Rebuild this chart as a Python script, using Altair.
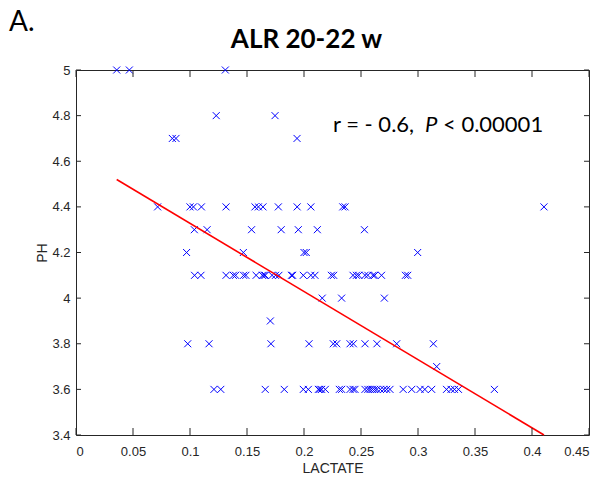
import altair as alt
import pandas as pd

# ---- data (LACTATE values grouped by PH level) ----
ph_levels = [5.0, 4.8, 4.7, 4.4, 4.3, 4.2, 4.1, 4.0, 3.9, 3.8, 3.7, 3.6]
lac_50 = [0.0357, 0.0468, 0.131]
lac_48 = [0.123, 0.1746]
lac_47 = [0.0845, 0.0877, 0.1939]
lac_44 = [0.0716, 0.100, 0.103, 0.110, 0.1316, 0.157, 0.160, 0.164, 0.1775,
          0.194, 0.206, 0.234, 0.236, 0.4105]
lac_43 = [0.1038, 0.115, 0.154, 0.180, 0.195, 0.2117, 0.253]
lac_42 = [0.097, 0.1468, 0.200, 0.202, 0.2997]
lac_41 = [0.104, 0.1096, 0.1316, 0.138, 0.140, 0.147, 0.149, 0.158, 0.1635,
          0.165, 0.166, 0.172, 0.175, 0.178, 0.189, 0.190, 0.1994, 0.206,
          0.2096, 0.224, 0.226, 0.243, 0.246, 0.248, 0.2535, 0.256, 0.2605,
          0.262, 0.268, 0.289, 0.291]
lac_40 = [0.216, 0.233, 0.2705]
lac_39 = [0.1705]
lac_38 = [0.098, 0.1167, 0.171, 0.2044, 0.2257, 0.2287, 0.2404, 0.2433,
          0.2535, 0.264, 0.2813, 0.3135]
lac_37 = [0.3164]
lac_36 = [0.121, 0.127, 0.166, 0.1827, 0.1994, 0.2038, 0.2126, 0.214, 0.2155,
          0.2187, 0.231, 0.233, 0.2404, 0.243, 0.2447, 0.2535, 0.256, 0.258,
          0.260, 0.262, 0.264, 0.267, 0.270, 0.2725, 0.2754, 0.287, 0.2945,
          0.3018, 0.306, 0.312, 0.325, 0.329, 0.332, 0.3355, 0.367]
lac_groups = [lac_50, lac_48, lac_47, lac_44, lac_43, lac_42, lac_41, lac_40,
              lac_39, lac_38, lac_37, lac_36]

# regression line end points
fit_lac = [0.0357, 0.4105]
fit_ph = [4.52, 3.40]

x_ticks = [0, 0.05, 0.1, 0.15, 0.2, 0.25, 0.3, 0.35, 0.4, 0.45]
y_ticks = [3.4, 3.6, 3.8, 4.0, 4.2, 4.4, 4.6, 4.8, 5.0]

title_text = "ALR 20-22 w"
panel_text = "A."
stat_a = "r = - 0.6,"
stat_p = "P"
stat_b = "< 0.00001"

# ---- tables ----
pts = pd.DataFrame([(x, y) for y, xs in zip(ph_levels, lac_groups) for x in xs],
                   columns=["LACTATE", "PH"])
fit = pd.DataFrame({"LACTATE": fit_lac, "PH": fit_ph})
xt = pd.DataFrame({"LACTATE": x_ticks})
yt = pd.DataFrame({"PH": y_ticks})

W, H = 513, 365
AX = "#262626"
FONT = "Liberation Sans"

xs = alt.Scale(domain=[0, 0.45], nice=False, zero=False)
ys = alt.Scale(domain=[3.4, 5.0], nice=False, zero=False)

x_axis = alt.Axis(values=x_ticks, format="~g", ticks=False, domain=False, grid=False,
                  labelFont=FONT, labelFontSize=13, labelColor=AX, labelPadding=10,
                  title="LACTATE", titleFont=FONT, titleFontSize=14, titleFontWeight="normal",
                  titleColor=AX, titleX=W / 2, titleY=33, titleBaseline="middle",
                  titleAlign="center")
y_axis = alt.Axis(values=y_ticks, format="~g", ticks=False, domain=False, grid=False,
                  labelFont=FONT, labelFontSize=13, labelColor=AX, labelPadding=6,
                  title="PH", titleFont=FONT, titleFontSize=14, titleFontWeight="normal",
                  titleColor=AX, titleX=-34, titleY=H / 2, titleAngle=-90,
                  titleBaseline="middle", titleAlign="center")

X = alt.X("LACTATE:Q", scale=xs, axis=x_axis)
Y = alt.Y("PH:Q", scale=ys, axis=y_axis)

points = alt.Chart(pts).mark_point(
    shape="M-1,-1L1,1M-1,1L1,-1", filled=False, color="#0000ff",
    strokeWidth=1, size=49, opacity=1
).encode(x=X, y=Y)

line = alt.Chart(fit).mark_line(color="#ff0000", strokeWidth=1.6).encode(x=X, y=Y)

tick_b = alt.Chart(xt).mark_rule(color=AX, strokeWidth=1).encode(
    x=X, y=alt.value(H), y2=alt.value(H - 7))
tick_t = alt.Chart(xt).mark_rule(color=AX, strokeWidth=1).encode(
    x=X, y=alt.value(0), y2=alt.value(7))
tick_l = alt.Chart(yt).mark_rule(color=AX, strokeWidth=1).encode(
    y=Y, x=alt.value(0), x2=alt.value(5))
tick_r = alt.Chart(yt).mark_rule(color=AX, strokeWidth=1).encode(
    y=Y, x=alt.value(W), x2=alt.value(W - 5))


def label(text, x, y, size, weight="normal", style="normal", font="Lato",
          align="left"):
    return alt.Chart(pd.DataFrame({"t": [text]})).mark_text(
        font=font, fontSize=size, fontWeight=weight, fontStyle=style,
        color="#000000", align=align, baseline="alphabetic"
    ).encode(x=alt.value(x), y=alt.value(y), text="t:N")


title = label(title_text, 230.5, -22, 26, weight="bold", align="center")
panel = label(panel_text, -67, -39, 28)
s1 = label(stat_a, 257, 62, 22)
s2 = label(stat_p, 349, 62, 22, style="italic")
s3 = label(stat_b, 367, 62, 22)

chart = alt.layer(
    points, line, tick_b, tick_t, tick_l, tick_r, title, panel, s1, s2, s3
).properties(
    width=W, height=H,
    background="white",
    autosize=alt.AutoSizeParams(type="none"),
    padding={"left": 76, "top": 70, "right": 11, "bottom": 54},
).configure_view(
    stroke=AX, strokeWidth=1
)

chart.save("out.html", embed_options={"renderer": "svg", "actions": False})
